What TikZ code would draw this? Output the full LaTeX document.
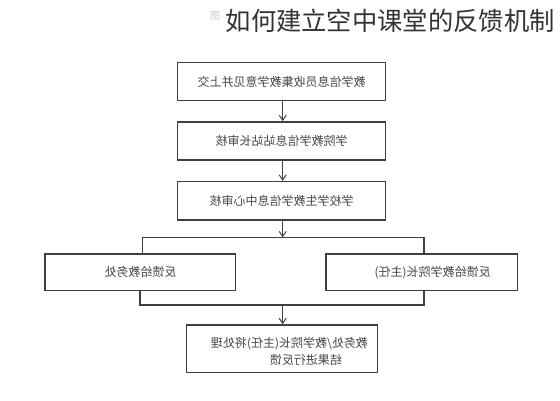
\documentclass[tikz,border=0pt]{standalone}
\usepackage{fontspec}
\usepackage{graphicx}
\newfontfamily\cjk{Noto Sans CJK SC}
\usetikzlibrary{arrows.meta,positioning}
\definecolor{boxline}{HTML}{404040}
\definecolor{txt}{HTML}{484848}
\definecolor{title}{HTML}{333333}
\begin{document}
\begin{tikzpicture}[x=1pt,y=-1pt,
  boxtext/.style={font=\cjk\fontsize{12}{14}\selectfont,text=txt},
  stepbox/.style={draw=boxline,line width=1.5pt,minimum height=38pt,inner sep=0pt,boxtext},
  conn/.style={draw=boxline,line width=1.2pt},
  arr/.style={conn,-{Straight Barb[length=5pt,width=7pt,line width=1pt]}}]
\useasboundingbox[fill=white] (0,0) rectangle (560,400);
% title
\node[anchor=west,font=\cjk\fontsize{10}{12}\selectfont,text=black!20,inner sep=0pt] (fig) at (210,16) {图};
\node[anchor=west,font=\cjk\fontsize{25.3}{28}\selectfont,text=title,inner sep=0pt] (ttl) at (225.5,21) {如何建立空中课堂的反馈机制};
% boxes
\node[stepbox,minimum width=208pt] (b1) at (281.6,81.7) {\reflectbox{教学信息员收集教学意见并上交}};
\node[stepbox,minimum width=208pt] (b2) at (281.6,140.8) {\reflectbox{学院教学信息站站长审核}};
\node[stepbox,minimum width=208pt,minimum height=38.5pt] (b3) at (281.6,200.8) {\reflectbox{学校学生教学信息中心审核}};
\node[stepbox,minimum width=190.7pt,minimum height=36.7pt] (bl) at (140.3,272.3) {\reflectbox{反馈给教务处}};
\node[stepbox,minimum width=191.3pt,minimum height=36.7pt] (br) at (421.7,272.3) {};
\node[boxtext,inner sep=0pt] (brt) at (432.6,272.3) {\reflectbox{反馈给教学院长(主任)}};
\node[stepbox,minimum width=191pt,minimum height=47.7pt] (bb) at (282.2,348.8) {};
\node[boxtext,inner sep=0pt,anchor=east] (bbt1) at (368,343.3) {\reflectbox{教务处/教学院长(主任)将处理}};
\node[boxtext,inner sep=0pt,anchor=east] (bbt2) at (342,359.5) {\reflectbox{结果进行反馈}};
% junction coordinates
\coordinate (jt) at (282.7,237.3);
\coordinate (jb) at (282.7,305);
% connectors
\draw[arr] (b1.south -| jt) -- (b2.north -| jt);
\draw[arr] (b2.south -| jt) -- (b3.north -| jt);
\draw[arr] (b3.south -| jt) -- (jt);
\draw[conn] (bl.north -| 142.3,0) |- (jt) -| (br.north -| 424,0);
\draw[conn] (bl.south -| 140,0) |- (jb) -| (br.south -| 424,0);
\draw[arr] (jb) -- (bb.north -| jb);
\end{tikzpicture}
\end{document}
